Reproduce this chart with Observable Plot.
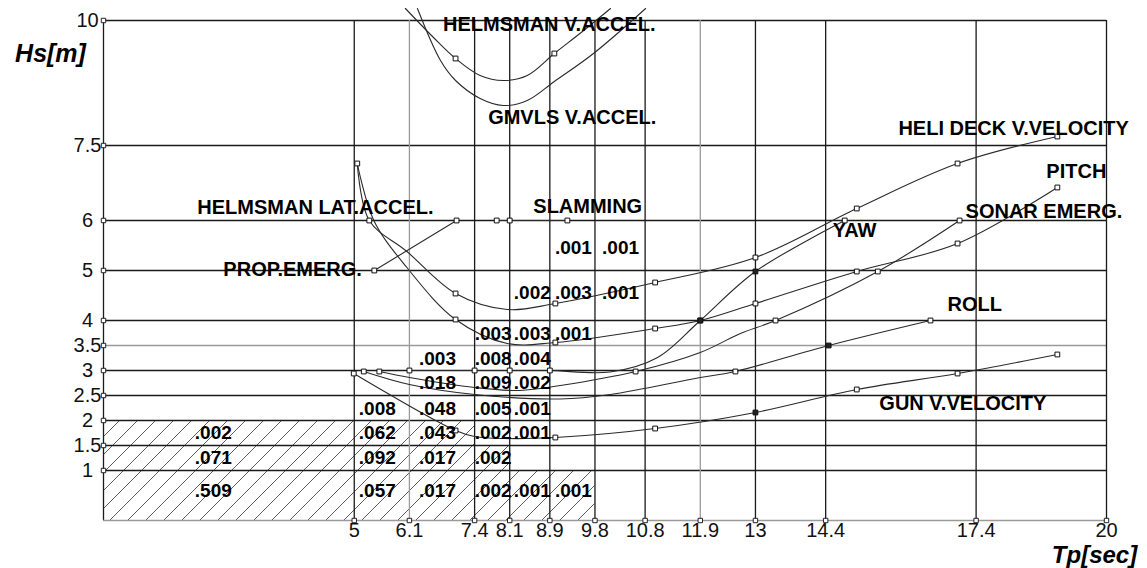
<!DOCTYPE html>
<html><head><meta charset="utf-8">
<script src="https://cdn.jsdelivr.net/npm/d3@7"></script>
<script src="https://cdn.jsdelivr.net/npm/@observablehq/plot@0.6"></script>
<style>
html,body{margin:0;padding:0;background:#fff;}
#chart svg{display:block;}
</style></head><body><div id="chart"></div>
<script>
// ---- axes ----
const xTicks = [5, 6.1, 7.4, 8.1, 8.9, 9.8, 10.8, 11.9, 13, 14.4, 17.4, 20];
const yTicks = [1, 1.5, 2, 2.5, 3, 3.5, 4, 5, 6, 7.5, 10];
const lightGridX = [6.1, 11.9];
const lightGridY = [3.5];

// ---- criteria curves: [Tp, Hs, marker(0 none,1 open,2 filled)] ----
const helmsmanVAccel = [[6.02,10.24,0],[6.58,9.66,0],[7.02,9.24,1],[7.51,8.9,0],[7.97,8.8,0],[8.45,8.9,0],[8.99,9.34,1],[9.55,9.78,0],[10.11,10.24,0]];
const gmvlsVAccel = [[6.26,10.24,0],[6.72,9.2,0],[7.02,8.8,0],[7.51,8.44,0],[7.97,8.3,0],[8.45,8.4,0],[8.99,8.78,0],[9.77,9.34,0],[10.81,10.24,0]];
const heliDeckVVel = [[5.06,7.14,1],[5.3,6.0,1],[6.05,5.38,0],[7.02,4.54,1],[8.05,4.22,0],[9.01,4.34,1],[11.0,4.76,1],[13.0,5.26,1],[15.02,6.24,1],[17.03,7.14,1],[19.02,7.68,1]];
const pitch = [[5.06,7.14,0],[5.39,6.0,0],[6.05,5.06,0],[7.02,4.02,1],[8.05,3.54,0],[9.01,3.56,1],[11.0,3.84,1],[11.9,4.0,2],[13.0,4.34,1],[15.02,4.98,1],[17.03,5.54,1],[19.02,6.66,1]];
const yaw = [[6.1,3.0,1],[7.4,3.0,1],[8.1,3.0,1],[8.9,3.0,1],[10.1,2.97,0],[11.05,3.26,0],[11.9,4.0,2],[13.0,4.98,2],[14.78,6.0,1]];
const sonarEmerg = [[5.5,2.98,1],[6.1,2.86,0],[7.4,2.66,0],[8.3,2.6,0],[9.11,2.7,0],[10.61,2.98,1],[11.9,3.36,0],[12.7,3.74,0],[13.4,4.0,1],[15.44,4.98,1],[17.07,6.0,1]];
const roll = [[5.19,2.98,1],[6.1,2.72,0],[7.4,2.52,0],[9.11,2.43,0],[10.11,2.52,0],[11.9,2.86,0],[12.6,2.98,1],[14.46,3.5,2],[16.49,4.0,1]];
const gunVVel = [[4.99,2.94,1],[7.02,1.8,1],[7.4,1.68,0],[8.0,1.64,0],[9.01,1.66,1],[11.0,1.84,1],[13.0,2.16,2],[15.02,2.62,1],[17.03,2.94,1],[19.02,3.32,1]];
const propEmerg = [[5.4,5.0,1],[7.04,6.0,1]];
const slamming = [[7.84,6.0,1],[8.1,6.0,1],[9.25,6.0,1]];

// ---- curve labels ----
const labelText = ["HELMSMAN V.ACCEL.","GMVLS V.ACCEL.","HELI DECK V.VELOCITY","PITCH","SONAR EMERG.","YAW","ROLL","GUN V.VELOCITY","HELMSMAN LAT.ACCEL.","SLAMMING","PROP.EMERG."];
const labelTp = [6.77, 7.67, 15.85, 18.8, 17.19, 14.54, 16.83, 15.47, 1.87, 8.57, 2.39];
const labelHs = [9.91, 8.06, 7.83, 6.98, 6.17, 5.79, 4.31, 2.34, 6.25, 6.28, 5.01];

// ---- probability cells ----
const probText = [".001",".001", ".002",".003",".001", ".003",".003",".001", ".003",".008",".004", ".018",".009",".002", ".008",".048",".005",".001", ".002",".062",".043",".002",".001", ".071",".092",".017",".002", ".509",".057",".017",".002",".001",".001"];
const probTp = [9.37,10.31, 8.55,9.37,10.31, 7.77,8.55,9.37, 6.66,7.77,8.55, 6.66,7.77,8.55, 5.46,6.66,7.77,8.55, 2.19,5.46,6.66,7.77,8.55, 2.19,5.46,6.66,7.77, 2.19,5.46,6.66,7.77,8.55,9.37];
const probHs = [5.46,5.46, 4.56,4.56,4.56, 3.74,3.74,3.74, 3.24,3.24,3.24, 2.76,2.76,2.76, 2.24,2.24,2.24,2.24, 1.76,1.76,1.76,1.76,1.76, 1.26,1.26,1.26,1.26, 0.6,0.6,0.6,0.6,0.6,0.6];

// ---- hatched (operable) region ----
const hatchX1 = [0, 0, 0];
const hatchX2 = [7.4, 8.1, 9.8];
const hatchY1 = [1.5, 1, 0];
const hatchY2 = [2, 1.5, 1];

// ---- build tables ----
const seriesList = [["hv", helmsmanVAccel],["gm", gmvlsVAccel],["hd", heliDeckVVel],["pi", pitch],["ya", yaw],["so", sonarEmerg],["ro", roll],["gu", gunVVel],["pe", propEmerg],["sl", slamming]];
const rows = seriesList.flatMap(([s, pts]) => pts.map(([tp, hs, m]) => ({s, tp, hs, m})));
const marks1 = rows.filter(d => d.m === 1);
const marks2 = rows.filter(d => d.m === 2);
const labels = labelText.map((t, i) => ({t, tp: labelTp[i], hs: labelHs[i]}));
const probs = probText.map((t, i) => ({t, tp: probTp[i], hs: probHs[i]}));
const hatch = hatchX1.map((x1, i) => ({x1, x2: hatchX2[i], y1: hatchY1[i], y2: hatchY2[i]}));

const DARK = "#1a1a1a", LIGHT = "#9a9a9a";

const chart = Plot.plot({
  width: 1147, height: 568,
  marginLeft: 103, marginRight: 41, marginTop: 20, marginBottom: 48,
  x: {domain: [0, 20], axis: null},
  y: {domain: [0, 10], axis: null},
  style: {fontFamily: "'Liberation Sans', Arial, sans-serif", fontSize: "20px", background: "#fff", color: "#000"},
  marks: [
    Plot.rect(hatch, {x1: "x1", x2: "x2", y1: "y1", y2: "y2", fill: "url(#hatch)"}),
    Plot.ruleY(yTicks.filter(d => !lightGridY.includes(d)), {x1: 0, x2: 20, stroke: DARK, strokeWidth: 1.3}),
    Plot.ruleY(yTicks.filter(d => lightGridY.includes(d)), {x1: 0, x2: 20, stroke: LIGHT, strokeWidth: 1.3}),
    Plot.ruleX(xTicks.filter(d => !lightGridX.includes(d)), {y1: 0, y2: 10, stroke: DARK, strokeWidth: 1.3}),
    Plot.ruleX(xTicks.filter(d => lightGridX.includes(d)), {y1: 0, y2: 10, stroke: LIGHT, strokeWidth: 1.3}),
    Plot.ruleX([0], {y1: 0, y2: 10, stroke: DARK, strokeWidth: 1.3}),
    Plot.ruleY([0], {x1: 0, x2: 20, stroke: LIGHT, strokeWidth: 1.5}),
    Plot.line(rows, {x: "tp", y: "hs", z: "s", curve: "catmull-rom", stroke: "#2a2a2a", strokeWidth: 1.1}),
    Plot.dot(marks1, {x: "tp", y: "hs", symbol: "square", r: 2.7, stroke: "#111", strokeWidth: 1, fill: "#fff"}),
    Plot.dot(marks2, {x: "tp", y: "hs", symbol: "square", r: 2.7, stroke: "#111", strokeWidth: 1, fill: "#222"}),
    Plot.dot(xTicks, {x: d => d, y: 0, symbol: "square", r: 2.5, stroke: "#222", strokeWidth: 1, fill: "#fff"}),
    Plot.dot(yTicks, {x: 0, y: d => d, symbol: "square", r: 2.5, stroke: "#222", strokeWidth: 1, fill: "#fff"}),
    Plot.axisX(xTicks, {tickSize: 0, tickPadding: 2, fontSize: 20, label: null, tickFormat: d => String(d), fill: "#111"}),
    Plot.axisY(yTicks, {tickSize: 0, tickPadding: 16, textAnchor: "middle", fontSize: 20, label: null, tickFormat: d => String(d), fill: "#111"}),
    Plot.text(probs, {x: "tp", y: "hs", text: "t", fontSize: 19, fontWeight: "bold", fill: "#000"}),
    Plot.text(labels, {x: "tp", y: "hs", text: "t", textAnchor: "start", fontSize: 20, fontWeight: "bold", fill: "#000"}),
    Plot.text(["Hs[m]"], {text: d => d, frameAnchor: "top-left", textAnchor: "middle", lineAnchor: "middle", dx: -53, dy: 33, fontSize: 25, fontWeight: "bold", fontStyle: "italic", fill: "#000"}),
    Plot.text(["Tp[sec]"], {text: d => d, frameAnchor: "bottom-right", textAnchor: "middle", lineAnchor: "middle", dx: -12, dy: 35, fontSize: 24, fontWeight: "bold", fontStyle: "italic", fill: "#000"})
  ]
});

// hatch pattern definition
const ns = "http://www.w3.org/2000/svg";
const defs = document.createElementNS(ns, "defs");
const pat = document.createElementNS(ns, "pattern");
pat.setAttribute("id", "hatch");
pat.setAttribute("patternUnits", "userSpaceOnUse");
pat.setAttribute("width", "18");
pat.setAttribute("height", "18");
const p = document.createElementNS(ns, "path");
p.setAttribute("d", "M0,18 L18,0 M-4.5,4.5 L4.5,-4.5 M13.5,22.5 L22.5,13.5");
p.setAttribute("stroke", "#333");
p.setAttribute("stroke-width", "0.8");
pat.appendChild(p);
defs.appendChild(pat);
chart.insertBefore(defs, chart.firstChild);

document.getElementById("chart").appendChild(chart);
</script>
</body></html>
